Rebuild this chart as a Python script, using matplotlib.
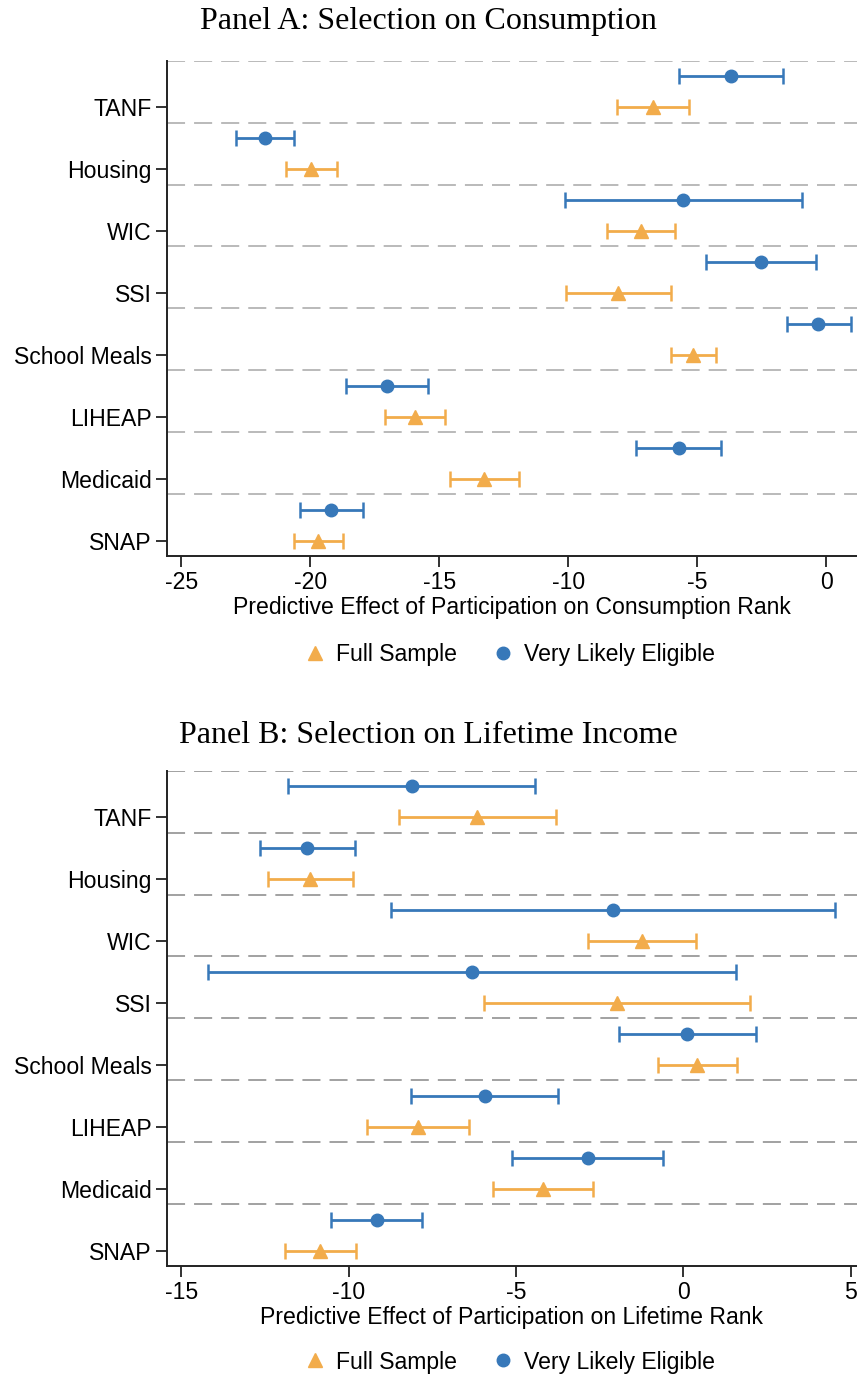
import matplotlib
matplotlib.use("Agg")
import matplotlib.pyplot as plt
from matplotlib.lines import Line2D
import numpy as np

programs = ["SNAP", "Medicaid", "LIHEAP", "School Meals", "SSI", "WIC", "Housing", "TANF"]

# Panel A: selection on consumption (estimate, lower CI, upper CI)
cons_full = [-19.69, -13.25, -15.94, -5.15, -8.05, -7.18, -19.97, -6.71]
cons_full_lo = [-20.63, -14.59, -17.09, -6.03, -10.09, -8.49, -20.95, -8.11]
cons_full_hi = [-18.74, -11.90, -14.76, -4.28, -6.00, -5.86, -18.96, -5.32]
cons_elig = [-19.20, -5.72, -17.04, -0.30, -2.54, -5.53, -21.76, -3.67]
cons_elig_lo = [-20.39, -7.37, -18.60, -1.51, -4.67, -10.13, -22.87, -5.69]
cons_elig_hi = [-17.97, -4.06, -15.43, 0.96, -0.39, -0.93, -20.62, -1.66]

# Panel B: selection on lifetime income
life_full = [-10.86, -4.20, -7.92, 0.42, -1.98, -1.23, -11.15, -6.16]
life_full_lo = [-11.91, -5.70, -9.45, -0.77, -5.95, -2.85, -12.42, -8.50]
life_full_hi = [-9.79, -2.71, -6.42, 1.61, 1.98, 0.39, -9.88, -3.81]
life_elig = [-9.17, -2.86, -5.94, 0.12, -6.32, -2.11, -11.24, -8.10]
life_elig_lo = [-10.53, -5.11, -8.13, -1.92, -14.20, -8.74, -12.65, -11.80]
life_elig_hi = [-7.80, -0.61, -3.74, 2.17, 1.58, 4.54, -9.81, -4.44]

cons_ticks = [-25, -20, -15, -10, -5, 0]
life_ticks = [-15, -10, -5, 0, 5]

ORANGE = "#F2AC4B"
BLUE = "#3778B9"
SANS = ["Liberation Sans", "DejaVu Sans"]
SERIF = ["Liberation Serif", "DejaVu Serif"]

W, H = 857, 1379
fig = plt.figure(figsize=(W / 100, H / 100), dpi=100)


def panel(rect, title, xlabel, full, full_lo, full_hi, elig, elig_lo, elig_hi,
          xlim, xticks, gridcolor, title_y, legend_y):
    ax = fig.add_axes(rect)
    y = np.arange(1, len(programs) + 1)
    for k in range(len(programs) + 1):
        ax.axhline(0.75 + k + 1, color=gridcolor, lw=1.3, dashes=(10, 5), zorder=1)
    f = np.array(full)
    e = np.array(elig)
    ax.errorbar(f, y, xerr=[f - np.array(full_lo), np.array(full_hi) - f],
                fmt="^", color=ORANGE, ms=10, elinewidth=2, capsize=6,
                capthick=1.8, zorder=3)
    ax.errorbar(e, y + 0.5, xerr=[e - np.array(elig_lo), np.array(elig_hi) - e],
                fmt="o", color=BLUE, ms=9, elinewidth=2, capsize=6,
                capthick=1.8, zorder=3)
    ax.set_xlim(*xlim)
    ax.set_ylim(0.75, len(programs) + 0.75)
    ax.set_yticks(y)
    ax.set_yticklabels(programs, fontfamily=SANS, fontsize=16.6)
    ax.set_xticks(xticks)
    ax.set_xticklabels([str(t) for t in xticks], fontfamily=SANS, fontsize=16.6)
    ax.set_xlabel(xlabel, fontfamily=SANS, fontsize=16.6, labelpad=1)
    for s in ("top", "right"):
        ax.spines[s].set_visible(False)
    for s in ("left", "bottom"):
        ax.spines[s].set_linewidth(1.4)
        ax.spines[s].set_color("#222222")
    ax.tick_params(axis="both", length=8, width=1.3, color="#222222", pad=3)
    fig.text(0.5, title_y, title, ha="center", va="center",
             fontfamily=SERIF, fontsize=23)
    handles = [
        Line2D([], [], marker="^", ls="none", color=ORANGE, ms=10, label="Full Sample"),
        Line2D([], [], marker="o", ls="none", color=BLUE, ms=9, label="Very Likely Eligible"),
    ]
    fig.legend(handles=handles, loc="center", bbox_to_anchor=(0.593, legend_y),
               ncol=2, frameon=False, prop={"family": SANS, "size": 16.6},
               handletextpad=0.3, columnspacing=1.4, handlelength=1.2)
    return ax


left = 166.7 / W
width = 1 - left
height = (556 - 60.7) / H

panel([left, 1 - 556 / H, width, height],
      "Panel A: Selection on Consumption",
      "Predictive Effect of Participation on Consumption Rank",
      cons_full, cons_full_lo, cons_full_hi, cons_elig, cons_elig_lo, cons_elig_hi,
      (-25.57, 1.2), cons_ticks, "#b4b4b4", 1 - 22 / H, 1 - 655 / H)

panel([left, 1 - 1266 / H, width, (1266 - 770.7) / H],
      "Panel B: Selection on Lifetime Income",
      "Predictive Effect of Participation on Lifetime Rank",
      life_full, life_full_lo, life_full_hi, life_elig, life_elig_lo, life_elig_hi,
      (-15.44, 5.19), life_ticks, "#9a9a9a", 1 - 735 / H, 1 - 1362 / H)

fig.savefig("out.png", dpi=100)
